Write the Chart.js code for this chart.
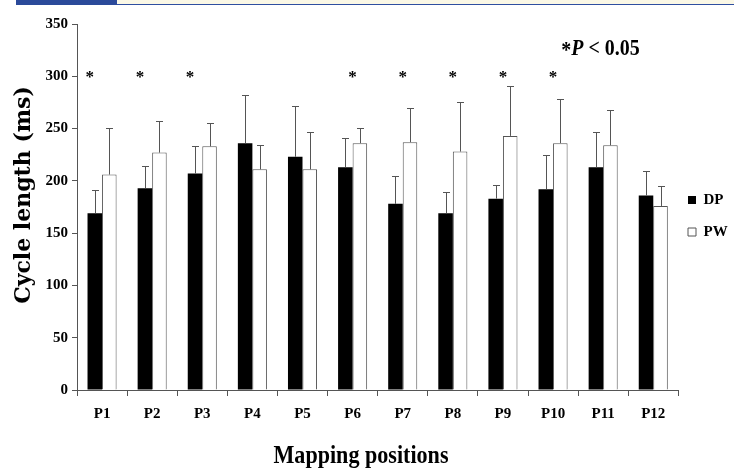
<!DOCTYPE html>
<html>
<head>
<meta charset="utf-8">
<script src="https://cdn.jsdelivr.net/npm/chart.js@4.4.0/dist/chart.umd.min.js"></script>
<style>
  html, body { margin: 0; padding: 0; background: #fff; }
  #wrap { position: relative; width: 734px; height: 475px; overflow: hidden; }
  #band { position: absolute; left: 117px; top: 0; width: 617px; height: 4px; background: #fbf8e6; border-bottom: 1px solid #2f4fa0; }
  #tab { position: absolute; left: 16px; top: 0; width: 101px; height: 5px; background: #2b4a9a; }
  canvas { position: absolute; left: 0; top: 0; }
</style>
</head>
<body>
<div id="wrap">
  <canvas id="c" width="734" height="475"></canvas>
  <div id="band"></div>
  <div id="tab"></div>
</div>
<script>
const categories = ['P1','P2','P3','P4','P5','P6','P7','P8','P9','P10','P11','P12'];
const dpValues = [169, 193, 207, 236, 223, 213, 178, 169, 183, 192, 213, 186];
const dpErrors = [22, 21, 26, 46, 49, 28, 27, 20, 13, 33, 34, 23];
const pwValues = [206, 227, 233, 211, 211, 236, 237, 228, 243, 236, 234, 176];
const pwErrors = [45, 30, 22, 23, 36, 15, 33, 47, 48, 42, 34, 19];
const significant = [true, true, true, false, false, true, true, true, true, true, false, false];
const yTicks = [0, 50, 100, 150, 200, 250, 300, 350];
const asteriskLevel = 300;
const pNote = ['*', 'P', ' < 0.05'];
const yTitle = 'Cycle length (ms)';
const xTitle = 'Mapping positions';

const serif = '"Liberation Serif", "Times New Roman", serif';

const errorBars = {
  id: 'errorBars',
  afterDatasetsDraw(chart) {
    const ctx = chart.ctx;
    const y = chart.scales.y;
    const errs = [dpErrors, pwErrors];
    ctx.save();
    ctx.strokeStyle = '#555';
    ctx.lineWidth = 1;
    chart.data.datasets.forEach((ds, di) => {
      const meta = chart.getDatasetMeta(di);
      meta.data.forEach((el, i) => {
        const top = Math.round(y.getPixelForValue(ds.data[i] + errs[di][i])) + 0.5;
        const x = Math.round(el.x) + 0.5;
        ctx.beginPath();
        ctx.moveTo(x, el.y);
        ctx.lineTo(x, top);
        ctx.moveTo(x - 3.5, top);
        ctx.lineTo(x + 3.5, top);
        ctx.stroke();
      });
    });
    ctx.restore();
  }
};

const legendPlace = {
  id: 'legendPlace',
  afterLayout(chart) {
    const lg = chart.legend;
    if (!lg) return;
    const w = lg.right - lg.left;
    lg.left = 671; lg.right = 671 + w;
    lg.top = 24; lg.bottom = 408;
  }
};

const annotations = {
  id: 'annotations',
  afterDraw(chart) {
    const ctx = chart.ctx;
    const xs = chart.scales.x, ys = chart.scales.y;
    const area = chart.chartArea;
    const dpMeta = chart.getDatasetMeta(0);
    ctx.save();
    ctx.fillStyle = '#000';
    // significance asterisks
    ctx.font = 'bold 17px ' + serif;
    ctx.textAlign = 'center';
    ctx.textBaseline = 'middle';
    const ay = ys.getPixelForValue(asteriskLevel) + 1;
    significant.forEach((s, i) => {
      if (!s) return;
      const x = i < 3 ? dpMeta.data[i].x - 5 : xs.getPixelForValue(i);
      ctx.fillText('*', x, ay);
    });
    // P note (condensed)
    ctx.textAlign = 'left';
    ctx.textBaseline = 'alphabetic';
    ctx.save();
    ctx.translate(area.right - 117, 55);
    ctx.scale(0.83, 1);
    let x = 0;
    ctx.font = 'bold 24px ' + serif;
    ctx.fillText(pNote[0], x, 2);
    x += ctx.measureText(pNote[0]).width;
    ctx.font = 'italic bold 24px ' + serif;
    ctx.fillText(pNote[1], x, 0);
    x += ctx.measureText(pNote[1]).width;
    ctx.font = 'bold 24px ' + serif;
    ctx.fillText(pNote[2], x, 0);
    ctx.restore();
    // y axis title
    ctx.save();
    ctx.translate(24, 195);
    ctx.rotate(-Math.PI / 2);
    ctx.textAlign = 'center';
    ctx.textBaseline = 'middle';
    ctx.font = 'bold 22px "DejaVu Serif", serif';
    ctx.fillText(yTitle, 0, 0);
    ctx.restore();
    // x axis title (condensed)
    ctx.save();
    ctx.translate(361, 463);
    ctx.scale(0.85, 1);
    ctx.textAlign = 'center';
    ctx.textBaseline = 'alphabetic';
    ctx.font = 'bold 26px ' + serif;
    ctx.fillText(xTitle, 0, 0);
    ctx.restore();
    ctx.restore();
  }
};

new Chart(document.getElementById('c'), {
  type: 'bar',
  data: {
    labels: categories,
    datasets: [
      { label: 'DP', data: dpValues, backgroundColor: '#000', borderColor: '#000', borderWidth: 0 },
      { label: 'PW', data: pwValues, backgroundColor: '#fff', borderColor: '#555', borderWidth: 1 }
    ]
  },
  options: {
    responsive: false,
    animation: false,
    devicePixelRatio: 1,
    layout: { padding: { top: 24, right: -11, left: 0, bottom: 0 } },
    datasets: { bar: { categoryPercentage: 0.58, barPercentage: 1.0 } },
    plugins: {
      tooltip: { enabled: false },
      legend: {
        position: 'right',
        align: 'center',
        labels: {
          boxWidth: 8, boxHeight: 8, padding: 17, color: '#000',
          font: { family: serif, weight: 'bold', size: 15 }
        }
      },
      title: { display: false }
    },
    scales: {
      x: {
        offset: true,
        grid: { offset: true, drawOnChartArea: false, drawTicks: true, tickLength: 6, color: '#555' },
        border: { color: '#555', width: 1 },
        ticks: { color: '#000', padding: 9, font: { family: serif, weight: 'bold', size: 15 } },
        afterFit(scale) { scale.height = 85; }
      },
      y: {
        min: 0, max: 350,
        afterBuildTicks(scale) { scale.ticks = yTicks.map(v => ({ value: v })); },
        grid: { drawOnChartArea: false, drawTicks: true, tickLength: 5, color: '#555' },
        border: { color: '#555', width: 1 },
        ticks: { color: '#000', padding: 4, font: { family: serif, weight: 'bold', size: 15 } },
        afterFit(scale) { scale.width = 77; }
      }
    }
  },
  plugins: [legendPlace, errorBars, annotations]
});
</script>
</body>
</html>
